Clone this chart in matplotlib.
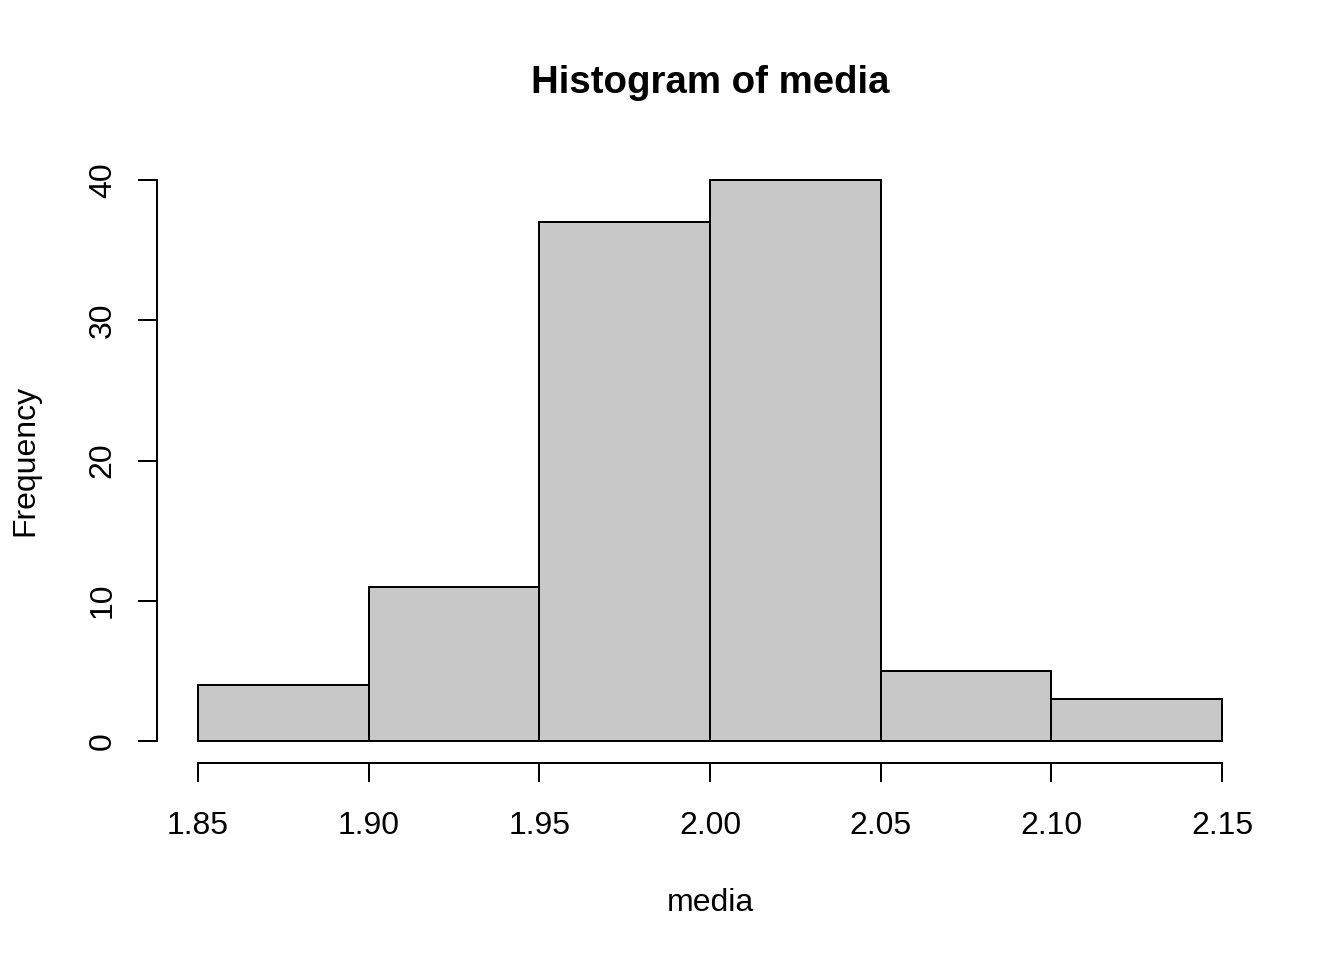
"""Histogram of media, drawn in the style of base R graphics."""

import matplotlib

matplotlib.use("Agg")
import matplotlib.pyplot as plt

BIN_EDGES = [1.85, 1.90, 1.95, 2.00, 2.05, 2.10, 2.15]
COUNTS = [4, 11, 37, 40, 5, 3]
X_TICKS = [1.85, 1.90, 1.95, 2.00, 2.05, 2.10, 2.15]
X_TICK_LABELS = ["1.85", "1.90", "1.95", "2.00", "2.05", "2.10", "2.15"]
Y_TICKS = [0, 10, 20, 30, 40]

plt.rcParams["font.family"] = ["Liberation Sans", "DejaVu Sans"]

fig = plt.figure(figsize=(7, 5), dpi=192)
ax = fig.add_axes([157 / 1344, 1 - 763.4 / 960, (1263 - 157) / 1344, (763.4 - 157.6) / 960])

lefts = BIN_EDGES[:-1]
widths = [b - a for a, b in zip(BIN_EDGES[:-1], BIN_EDGES[1:])]
ax.bar(lefts, COUNTS, width=widths, align="edge", color="#C8C8C8",
       edgecolor="black", linewidth=0.75)

ax.set_xlim(1.838, 2.162)
ax.set_ylim(-1.6, 41.6)

for side in ("top", "right"):
    ax.spines[side].set_visible(False)
ax.spines["left"].set_bounds(0, 40)
ax.spines["bottom"].set_bounds(1.85, 2.15)
for side in ("left", "bottom"):
    ax.spines[side].set_linewidth(0.75)

ax.set_xticks(X_TICKS)
ax.set_xticklabels(X_TICK_LABELS)
ax.set_yticks(Y_TICKS)
ax.set_yticklabels([str(v) for v in Y_TICKS], rotation=90, va="center")
ax.tick_params(axis="both", direction="out", length=7.2, width=0.75, labelsize=12)
ax.tick_params(axis="x", pad=10.7)
ax.tick_params(axis="y", pad=7.5)

fig.text(710 / 1344, 1 - 83 / 960, "Histogram of media", ha="center", va="center",
         fontsize=14.4, fontweight="bold")
fig.text(710 / 1344, 1 - 903 / 960, "media", ha="center", va="center", fontsize=12)
fig.text(25 / 1344, 1 - 460 / 960, "Frequency", ha="center", va="center",
         rotation=90, fontsize=12)

fig.savefig("out.png", dpi=192)
